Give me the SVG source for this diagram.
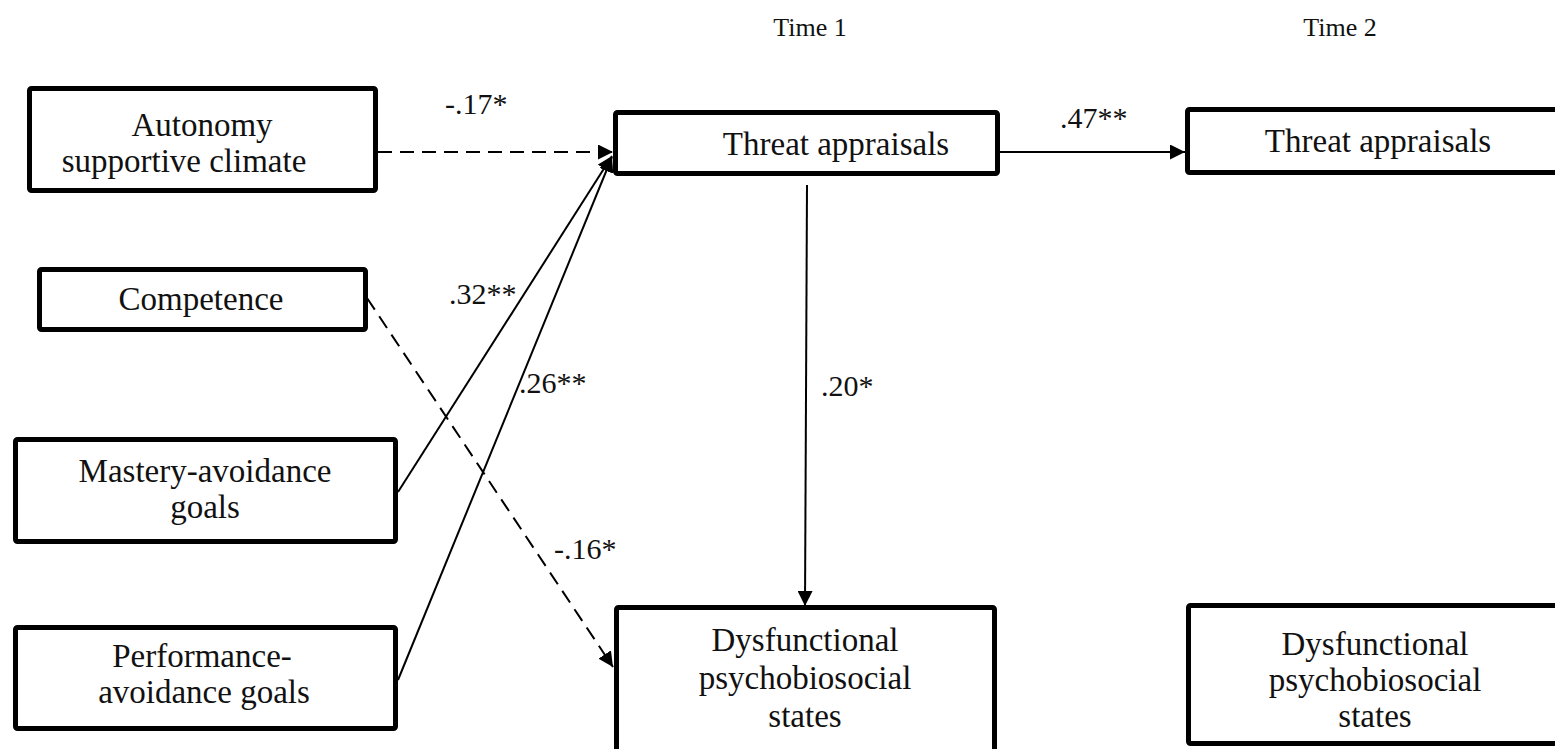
<svg xmlns="http://www.w3.org/2000/svg" width="1555" height="749" viewBox="0 0 1555 749">
<style>
.box{fill:#fff;stroke:#000;stroke-width:5;}
.t{font-family:"Liberation Serif","Times New Roman",serif;font-size:33px;fill:#111;text-anchor:middle;}
.lbl{font-family:"Liberation Serif","Times New Roman",serif;font-size:30px;fill:#111;}
.hd{font-family:"Liberation Serif","Times New Roman",serif;font-size:26px;fill:#111;text-anchor:middle;}
.c{fill:none;stroke:#000;stroke-width:2;}
.d{stroke-dasharray:14 8;}
</style>
<defs>
<marker id="ah" markerUnits="userSpaceOnUse" markerWidth="15" markerHeight="15" refX="15" refY="7.5" orient="auto">
<path d="M0,0 L15,7.5 L0,15 z" fill="#000"/>
</marker>
</defs>
<text class="hd" x="810" y="36">Time 1</text>
<text class="hd" x="1340" y="36">Time 2</text>
<g id="connectors">
<line class="c d" x1="378" y1="152" x2="613" y2="152" marker-end="url(#ah)"/>
<line class="c" x1="1000" y1="152" x2="1185" y2="152" marker-end="url(#ah)"/>
<line class="c" x1="807" y1="185" x2="805" y2="606" marker-end="url(#ah)"/>
<line class="c" x1="398" y1="492" x2="612" y2="156" marker-end="url(#ah)"/>
<line class="c" x1="398" y1="680" x2="612" y2="157" marker-end="url(#ah)"/>
<line class="c d" x1="367" y1="298" x2="613" y2="667" marker-end="url(#ah)"/>
</g>
<g id="labels">
<text class="lbl" x="445" y="114">-.17*</text>
<text class="lbl" x="1060" y="128">.47**</text>
<text class="lbl" x="449" y="304">.32**</text>
<text class="lbl" x="519" y="393">.26**</text>
<text class="lbl" x="821" y="396">.20*</text>
<text class="lbl" x="554" y="559">-.16*</text>
</g>
<g id="autonomy">
<rect class="box" x="29.5" y="88.5" width="346" height="102" rx="2"/>
<text class="t" x="202" y="136">Autonomy</text>
<text class="t" x="184" y="172">supportive climate</text>
</g>
<g id="competence">
<rect class="box" x="39.5" y="269.5" width="326" height="60" rx="2"/>
<text class="t" x="201" y="310">Competence</text>
</g>
<g id="mastery">
<rect class="box" x="15.5" y="439.5" width="380" height="102" rx="2"/>
<text class="t" x="205" y="482">Mastery-avoidance</text>
<text class="t" x="205" y="518">goals</text>
</g>
<g id="performance">
<rect class="box" x="15.5" y="627.5" width="380" height="101" rx="2"/>
<text class="t" x="202" y="667">Performance-</text>
<text class="t" x="204" y="703">avoidance goals</text>
</g>
<g id="threat1">
<rect class="box" x="615.5" y="112.5" width="382" height="61" rx="2"/>
<text class="t" x="836" y="155">Threat appraisals</text>
</g>
<g id="dys1">
<rect class="box" x="616.5" y="607.5" width="378" height="160" rx="2"/>
<text class="t" x="805" y="651">Dysfunctional</text>
<text class="t" x="805" y="689">psychobiosocial</text>
<text class="t" x="805" y="727">states</text>
</g>
<g id="threat2">
<rect class="box" x="1187.5" y="109.5" width="400" height="63" rx="2"/>
<text class="t" x="1378" y="152">Threat appraisals</text>
</g>
<g id="dys2">
<rect class="box" x="1188.5" y="605.5" width="400" height="138" rx="2"/>
<text class="t" x="1375" y="655">Dysfunctional</text>
<text class="t" x="1375" y="691">psychobiosocial</text>
<text class="t" x="1375" y="727">states</text>
</g>
</svg>
